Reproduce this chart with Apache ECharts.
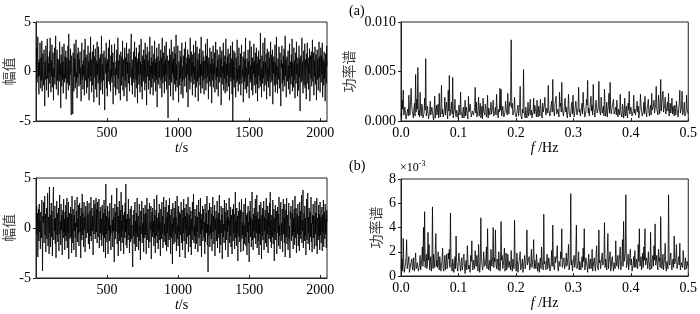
<!DOCTYPE html>
<html>
<head>
<meta charset="utf-8">
<script src="https://cdn.jsdelivr.net/npm/echarts@6/dist/echarts.min.js"></script>
<style>
  html, body { margin: 0; padding: 0; background: #fff; }
  #main { width: 700px; height: 314px; }
</style>
</head>
<body>
<div id="main"></div>
<script>
// 时域信号 (上) — 幅值, 以 t = 0..2048 s 均匀采样
var signalA = [
  0.3, 2.4, -1.1, 1.7, 3.5, -0.6, 0.9, -2.3, 1.2, -0.4, 2.9, 0.1, -1.7, 1.4, -0.9, 3.1, -2.0, 0.6, 1.8, -0.3,
  -1.4, 2.2, 0.5, -3.5, 1.0, -0.8, 2.6, 1.3, -1.9, 0.2, 3.3, -0.7, 1.5, -2.6, 0.8, -0.1, 2.0, -1.2, 3.4, 0.4,
  -2.1, 1.1, -0.5, 2.7, -1.6, 0.7, 1.9, -2.9, 0.3, -0.6, 2.4, -1.3, 1.6, 3.6, -0.2, -1.8, 0.9, 2.2, -0.9, 1.3,
  -2.4, 0.5, 1.2, -1.0, 3.0, -0.4, 0.8, -3.7, 1.7, 0.1, -1.5, 2.5, -0.8, 1.0, -2.2, 0.6, 2.8, -1.1, 0.2, 1.5,
  -0.7, 2.1, -2.8, 0.9, 1.4, -1.2, 0.4, 2.6, -1.9, 3.8, 0.2, -1.4, 1.1, -0.3, 2.3, -2.5, -4.4, 1.6, 0.5, -1.0,
  -4.3, 1.9, 0.7, -2.0, 2.8, -0.5, 1.3, -1.7, 0.6, 3.2, -1.1, 0.0, -2.7, 1.8, -0.6, 2.4, 0.9, -1.5, 1.2, -0.2,
  2.0, -1.3, 0.4, -3.0, 1.6, 2.9, -0.8, 0.7, -1.8, 1.1, -0.4, 2.2, -2.4, 0.8, 3.3, -0.9, 1.4, -0.1, -2.2, 1.7,
  0.5, -1.6, 2.6, -0.7, 1.0, -2.9, 0.3, 1.9, -1.0, 3.5, -0.5, 1.2, -2.1, 0.6, 2.0, -1.4, 0.1, 2.7, -3.1, 0.9,
  1.5, -0.6, 2.3, -1.8, 0.4, 1.1, -2.6, 3.0, -0.3, 0.8, -1.2, 2.5, 0.2, -3.4, 1.3, -0.8, 1.7, -1.9, 0.6, 3.6,
  -1.1, 0.7, -2.3, 1.8, 0.3, -0.9, 2.1, -1.5, -3.9, 1.4, 0.5, -0.2, 2.9, -1.7, 0.9, -2.5, 1.2, 0.0, 2.4, -1.0,
  0.8, 3.2, -1.3, 0.2, -2.0, 1.6, -0.6, 2.7, -1.1, 0.5, 1.9, -3.3, 0.9, -0.4, 1.3, 2.8, -1.6, 0.3, -2.4, 1.0,
  -0.3, 2.2, -1.8, 0.6, 3.4, -0.7, 1.1, -2.2, 0.4, 1.7, -1.0, -2.9, 2.0, 0.8, -1.4, 1.5, -0.5, 3.1, -1.9, 0.1,
  1.2, -2.5, 0.7, 2.4, -0.9, 1.4, -1.6, 0.3, 2.9, -3.0, 1.0, -0.2, 1.8, -1.2, 0.5, 2.3, -2.0, 0.9, -0.6, 1.6,
  2.6, 3.8, -1.4, 0.4, -2.3, 1.2, -0.7, 2.0, -1.1, 0.6, 3.0, -2.6, 0.2, 1.5, -0.8, 2.4, -1.7, 0.9, -3.2, 1.3,
  -0.4, 1.9, -1.3, 2.7, 0.5, -2.1, 1.0, -0.3, 3.3, -1.5, 0.7, -2.8, 1.6, 0.1, -1.0, 2.2, -0.6, 1.2, -1.9, 2.9,
  0.3, -1.2, 1.7, -3.4, 0.8, 2.5, -0.5, 1.1, -1.8, 0.4, 2.0, -0.9, 3.5, -2.3, 0.6, -0.1, 1.4, -1.6, 2.6, -0.7,
  1.0, -2.4, 0.5, 1.8, -1.1, 3.1, -0.4, 0.9, -2.0, 1.3, -0.8, 2.4, -3.6, 0.7, 1.5, -1.3, 0.2, 2.8, -0.6, 1.1,
  -1.7, 0.6, 2.2, -0.9, 1.4, -2.6, 3.4, 0.0, -1.2, 1.9, -0.5, 0.8, -2.2, 2.6, -1.0, 1.2, -0.3, 3.0, -1.8, 0.4,
  1.6, -0.7, -4.7, 1.1, 0.3, -1.4, 2.3, -0.8, 1.7, -2.5, 0.6, 3.2, -1.1, 0.9, -0.2, 2.0, -2.9, 1.3, -0.6, 2.5,
  -1.3, 0.4, 1.8, -2.0, 3.7, -0.9, 0.7, -1.6, 1.2, 2.6, -0.4, -3.1, 1.0, 0.2, -1.4, 2.1, -0.7, 1.5, -2.3, 0.8,
  2.9, -1.0, 0.5, -2.7, 1.6, 0.3, -0.8, 2.3, -1.5, 1.1, 3.0, -0.6, 0.8, -2.1, 1.4, -0.3, 2.2, -3.6, 0.6, 1.7,
  -0.9, 1.3, -1.8, 3.4, 0.4, -1.1, 2.0, -0.5, 0.9, -2.4, 1.7, -0.2, 2.7, -1.3, 0.5, -0.8, 1.9, -2.6, 3.1, 0.2,
  -1.6, 0.8, 2.5, -1.0, 1.2, -3.0, 0.3, 1.8, -0.6, 2.3, -1.4, 0.7, -2.2, 3.5, -0.4, 1.0, -1.7, 0.4, 2.1, -0.9,
  1.5, -2.3, 0.6, 1.1, -0.7, 2.8, -1.9, 0.2, 1.6, -1.2, 3.3, -0.5, 0.9, -2.8, 1.4, 0.1, -1.0, 2.4, -1.5, 0.7,
  -0.2, 2.0, -3.2, 1.3, 0.5, -0.9, 2.6, -1.6, 0.8, -0.3, 1.9, -2.1, 1.1, 3.0, -0.8, 0.4, -1.8, 2.2, -0.5, 1.2,
  -2.5, 0.9, 1.7, -1.1, 0.3, 2.5, -0.6, 1.4, -3.4, 0.7, 2.1, -1.3, 0.5, -0.1, 2.9, -1.9, 1.0, -0.7, 1.6, -2.2,
  0.6, 3.3, -1.2, 0.8, -2.0, 1.5, -0.4, 2.3, -1.5, 0.2, 1.8, -2.9, 0.9, -0.6, 2.6, -1.0, 0.4, 1.3, -2.3, 3.0,
  -5.0, 1.1, -0.8, 2.1, -1.6, 0.5, 1.9, -0.3, -2.6, 1.4, 0.7, -1.1, 3.2, -0.9, 0.3, -2.0, 1.6, 2.4, -1.3, 0.6,
  -0.7, 1.8, -2.4, 0.9, 2.7, -1.2, 0.2, -0.5, 1.5, -3.1, 0.8, 2.0, -1.0, 1.2, -1.8, 3.4, -0.6, 0.4, -2.2, 1.3,
  0.5, -1.5, 2.2, -0.3, 1.0, -2.7, 1.7, 3.1, -1.1, 0.6, -0.8, 2.5, -1.9, 0.3, 1.4, -2.4, 0.9, -0.2, 2.8, -1.4,
  1.1, -0.6, 1.9, -2.2, 0.4, 2.4, -1.3, 0.8, -3.0, 1.5, -0.4, 2.1, -1.7, 0.6, 1.2, -0.9, 3.9, -1.5, 0.3, -2.6,
  1.6, 0.2, -1.2, 2.9, -0.7, 1.0, -2.0, 0.5, 3.4, -1.4, 0.9, -0.3, 1.8, -2.8, 0.7, 2.3, -1.0, 0.4, -1.6, 2.0,
  -0.5, 1.4, -2.5, 0.8, 3.0, -1.1, 0.3, 1.7, -0.9, 2.2, -3.3, 1.0, -0.2, 1.5, -1.4, 0.6, 2.7, -2.1, 0.9, -0.4,
  3.5, -1.3, 0.5, -2.2, 1.3, 0.7, -0.8, 2.5, -1.7, 0.2, 1.9, -0.6, -3.5, 1.1, 0.4, 2.6, -1.2, 0.8, -2.0, 1.6,
  -0.9, 2.3, 0.1, -1.5, 3.6, -0.4, 1.2, -2.6, 0.7, 1.5, -1.0, 0.3, 2.1, -1.8, 0.6, -0.7, 2.8, -2.3, 1.0, 0.2,
  -1.3, 1.7, -0.5, 3.3, -2.0, 0.9, 0.2, -1.6, 2.4, -0.8, 1.1, -2.7, 0.5, 1.9, -1.2, 3.0, -0.3, 0.8, -2.5, 1.4,
  0.4, -1.9, 2.6, -0.6, 1.3, -4.0, 0.9, 1.6, -1.1, 0.3, 3.4, -0.9, 1.0, -2.2, 0.6, 2.1, -1.4, 0.2, 2.8, -1.7,
  1.2, -0.4, -2.8, 1.8, 0.5, 2.9, -1.2, 0.7, -1.8, 1.4, -0.2, 2.3, -3.0, 0.8, 1.6, -0.7, 2.0, -1.5, 0.4, 3.2,
  -1.0, 0.6, 1.9, -2.4, 1.1, -0.5, 2.5, -1.3, 0.3, 1.7, -2.9, 0.9, 2.2, -0.8, 1.3, -1.9, 0.5, 3.0, -0.6, 1.5,
  -2.1, 0.8, 2.4, -1.1, 1.6, -0.3, 2.9, -2.6, 0.4, 1.2, -1.4, 2.0, -0.7, 0.9, -3.0, 1.8, 0.2, -1.2, 2.6, 0.5
];

// 时域信号 (下)
var signalB = [
  1.0, 2.2, -0.6, 1.5, -2.9, 0.8, 1.9, -1.3, 2.4, -0.4, 0.7, -2.1, 1.6, 0.3, -1.0, 2.8, -0.8, -4.3, 1.2, 0.5,
  2.6, -1.5, 0.9, 3.2, -0.7, 1.4, -2.4, 0.6, 2.0, -1.1, 0.2, 3.5, -1.8, 1.1, 0.4, -2.6, 4.1, -0.5, 1.3, -1.9,
  0.8, 2.5, -0.9, 1.7, -2.8, 0.4, 3.0, 4.1, -1.2, 0.9, -0.3, 2.2, -1.6, 1.0, -3.0, 0.6, 2.7, -0.7, 1.5, -1.4,
  0.3, 2.0, -2.3, 1.2, 3.3, -0.6, 0.7, -1.7, 2.4, -0.2, 1.3, -2.7, 0.5, 1.8, -1.0, 2.9, -0.4, 0.9, -2.2, 1.6,
  -0.8, 2.3, -1.3, 0.6, 3.0, -2.0, 1.1, -0.5, 2.6, -3.1, 0.8, 1.5, -1.1, 0.2, 2.1, -0.9, 1.4, -2.5, 3.2, 0.4,
  -1.5, 1.9, 0.7, -2.2, 1.3, -0.3, 2.8, -1.0, 0.5, -2.9, 1.7, 0.1, 3.1, -1.4, 0.9, -0.6, 2.3, -1.8, 1.0, 2.5,
  -0.4, 1.2, -3.0, 2.0, 0.6, -1.2, 3.4, -0.7, 1.5, 0.3, -1.9, 2.6, -0.2, 1.1, -2.4, 0.8, 2.2, -1.0, 0.4, 1.8,
  2.7, -0.5, 1.4, -1.6, 0.9, 2.5, -2.1, 0.3, 1.7, -0.8, 3.1, -1.3, 0.7, 2.0, -0.3, 1.2, -2.7, 0.5, 2.8, -0.6,
  1.6, 2.4, -1.1, 0.8, 3.0, -0.4, 1.9, -1.5, 2.6, 0.2, -0.9, 1.3, 2.9, -2.0, 0.6, 1.7, -0.5, 2.1, -1.2, 0.9,
  -1.8, 2.3, 0.4, -0.7, 1.5, -2.4, 2.8, -1.0, 0.7, 1.9, -3.0, 4.4, -0.6, 1.2, -1.4, 0.5, 2.2, -2.6, 1.0, -0.2,
  1.7, -1.3, 2.5, -0.8, 0.3, -2.2, 1.4, 3.3, -0.5, 0.8, -1.9, 2.0, -0.3, 1.1, -3.4, 0.6, 2.4, -1.1, 1.6, -0.4,
  0.9, 4.0, -1.6, 0.5, 2.1, -2.8, 1.2, -0.6, 2.7, -1.3, 0.4, 1.8, -2.3, 3.6, -0.9, 0.7, -1.5, 2.3, -0.2, 1.3,
  -2.6, 0.8, 1.6, -1.0, 2.5, -0.4, 4.4, -1.7, 0.9, -2.0, 1.4, 0.2, -1.2, 2.9, -0.7, 1.0, -2.5, 0.6, 1.9, -1.4,
  0.5, 2.2, -1.1, 0.3, -2.9, -3.9, 1.3, -0.8, 1.8, -1.6, 0.4, 2.6, -2.3, 0.7, -0.5, 1.5, -1.9, 3.0, -0.9, 0.6,
  1.2, -2.2, 0.8, 2.4, -1.3, 0.2, -3.2, 1.7, -0.6, 1.1, 2.7, -1.5, 0.5, -0.9, 2.0, -2.4, 1.4, 0.3, -1.0, 2.3,
  -0.7, 1.5, -2.6, 0.9, 3.0, -1.2, 0.4, 1.9, -0.5, -2.0, 1.2, 2.5, -1.4, 0.6, -0.2, 2.2, -3.1, 0.8, 1.6, -0.9,
  2.0, -0.4, 0.7, -1.8, 2.9, -1.0, 1.3, -2.5, 0.5, 1.8, -0.8, 3.3, -1.5, 0.2, 1.0, -2.1, 1.5, -0.3, 2.4, -1.2,
  0.6, -2.8, 1.9, 0.3, -1.1, 2.6, -0.6, 1.2, -2.0, 0.8, 3.1, -1.4, 0.4, -0.7, 2.1, -1.7, 0.9, 2.8, -2.3, 1.1,
  -0.5, 1.6, -1.9, 2.3, 0.2, -1.2, 3.0, -0.8, 1.3, -2.6, 0.7, 1.9, -1.0, 0.4, -3.6, 2.5, -0.3, 1.0, -1.6, 2.0,
  0.8, -1.4, 2.7, -0.6, 1.1, -2.3, 0.5, 3.2, -1.1, 0.3, -1.8, 2.2, -0.4, 1.6, -2.9, 0.9, 1.4, -0.7, 2.6, -1.5,
  0.2, 1.8, -2.2, 1.0, -0.5, 2.9, -1.3, 0.6, 2.0, -3.0, 1.2, -0.2, 2.4, -1.6, 0.8, 1.5, -0.9, 3.1, -2.4, 0.4,
  1.3, -0.7, 2.1, -1.9, 0.5, 1.7, -2.7, 0.9, -0.3, 2.6, -1.2, 1.0, 3.4, -1.5, 0.2, -0.8, 1.9, -2.1, 1.2, 0.6,
  -1.6, 2.3, -0.4, 1.1, -2.4, 0.7, 2.8, -1.0, 0.3, 1.6, -1.8, 3.0, -0.6, 0.9, -2.9, 1.4, -0.2, 2.2, -1.3, 0.5,
  1.9, -0.9, 0.6, -2.6, 2.4, -1.4, 0.8, 1.5, -0.5, 3.2, -1.7, 0.4, -4.4, 1.8, -0.8, 1.1, 2.5, -1.9, 0.3, -0.6,
  2.1, -1.1, 1.4, -2.3, 0.7, 3.1, -0.4, 1.2, -1.6, 0.5, 2.3, -2.8, 0.9, -0.2, 1.7, -1.3, 0.6, 2.7, -2.0, 1.0,
  -0.6, 1.5, -1.0, 3.3, -2.5, 0.8, 0.3, -1.7, 2.2, -0.5, 1.3, -3.1, 1.0, 2.0, -0.9, 0.4, -1.5, 2.8, -0.3, 1.6,
  -2.2, 0.6, 2.5, -1.2, 0.9, -0.4, 1.8, -2.9, 1.1, 0.2, 3.0, -1.5, 0.7, -0.8, 2.1, -1.9, 1.3, 0.5, -2.6, 1.9,
  0.9, -1.3, 2.4, -0.5, 1.4, -2.1, 0.3, 3.6, -1.0, 0.7, -1.8, 2.0, -0.6, 1.2, -3.3, 0.8, 1.7, -0.9, 2.6, -1.4,
  0.4, 1.8, -2.4, 0.9, 2.9, -1.1, 0.5, -0.7, 1.6, -2.3, 1.0, 2.4, -1.6, 0.3, -0.9, 3.0, -1.8, 0.7, 1.3, -2.7,
  1.5, -0.4, 2.2, -1.5, 0.6, -3.4, 1.7, 0.2, 2.7, -0.9, 1.1, -1.9, 0.5, 3.6, -1.2, 0.8, -2.2, 1.4, -0.3, 2.0,
  -1.0, 0.7, 2.9, -1.6, 1.2, -0.5, 3.3, -2.0, 0.4, 1.6, -1.3, 0.9, -2.7, 2.3, -0.6, 1.0, -1.7, 2.6, 0.3, -3.1,
  1.3, -0.8, 2.0, -1.2, 0.6, 2.7, -2.2, 1.1, -0.3, 1.8, -1.5, 0.4, 3.0, -1.9, 0.9, -0.6, 2.2, -2.5, 1.5, 0.2,
  -1.1, 2.5, -0.7, 3.6, -1.4, 0.8, -2.0, 1.3, 0.5, -0.9, 2.8, -1.6, 0.7, 1.9, -3.3, 1.0, -0.4, 2.3, -1.2, 0.6,
  1.7, -2.6, 0.9, 2.1, -0.5, 1.4, -1.8, 3.1, -0.8, 0.3, -2.1, 1.6, 2.6, -1.3, 0.5, -0.7, 1.9, -2.4, 1.2, 2.9,
  -0.6, 1.0, -1.5, 2.4, -2.9, 0.7, 1.8, -0.9, 3.0, -1.6, 0.4, 1.3, -2.2, 0.8, 2.5, -1.1, 0.2, -3.0, 1.7, 0.9,
  2.2, -1.3, 0.6, 1.5, -0.8, 2.8, -2.1, 1.0, -0.4, 1.9, -1.7, 3.2, 0.3, -1.0, 2.0, -2.5, 0.9, 1.4, -0.6, 2.4,
  -1.8, 0.5, 1.2, -2.3, 2.6, -0.7, 1.7, -1.1, 0.4, 3.3, -1.5, 0.8, -0.3, 3.8, -2.0, 0.6, 1.5, -1.3, 2.2, -0.8,
  1.0, -2.7, 0.7, 2.9, -1.2, 0.3, 3.5, -1.6, 1.1, -0.5, 2.0, -2.2, 0.9, 1.6, -0.9, 3.1, -1.4, 0.5, -2.4, 1.3,
  0.4, 2.4, -1.0, 1.2, -2.1, 0.8, 2.7, -0.6, 1.5, -1.8, 0.2, 3.0, -2.6, 1.0, 0.6, -1.2, 2.3, -0.8, 1.4, -2.2,
  2.6, -0.7, 1.1, -1.5, 0.5, 2.1, -2.3, 1.3, -0.4, 2.8, -1.9, 0.7, 1.6, -1.1, 2.4, -0.6, 0.9, -2.0, 1.8, 0.6
];

// 功率谱 (a), 单位 1e-3, f = 0 .. 0.5 Hz
var spectrumA = [
  0.8, 0.3, 2.1, 1.2, 3.1, 0.6, 0.4, 1.4, 1.5, 0.2, 0.2, 0.9, 1.2, 0.5, 2.6, 1.1, 0.6, 0.4, 3.3, 1.6, 1.0, 0.7, 0.3, 1.3, 1.8, 0.5, 4.7, 0.9, 2.2, 1.2, 5.4, 0.6,
  1.1, 0.4, 2.9, 1.0, 0.5, 1.7, 1.4, 0.3, 0.2, 0.8, 2.3, 1.1, 6.3, 0.5, 0.9, 1.5, 1.6, 0.2, 0.3, 1.0, 2.0, 0.6, 0.7, 1.4, 1.3, 0.4, 0.1, 0.9, 2.5, 0.3, 1.0, 1.6,
  0.6, 1.2, 1.7, 0.3, 2.8, 0.9, 0.4, 1.5, 3.6, 0.7, 1.2, 0.4, 0.3, 1.1, 2.4, 0.6, 1.5, 1.9, 0.8, 0.2, 3.1, 1.0, 4.6, 0.5, 0.5, 1.3, 1.9, 0.7, 4.4, 0.3, 0.9, 1.2,
  2.2, 0.8, 0.4, 1.1, 1.3, 0.5, 0.2, 1.6, 1.8, 0.6, 2.9, 1.0, 0.7, 0.3, 1.0, 1.4, 0.3, 0.8, 2.1, 0.5, 1.4, 1.2, 0.6, 0.2, 2.5, 0.9, 0.9, 1.7, 1.6, 0.4, 0.2, 1.0,
  1.2, 0.6, 0.5, 1.3, 3.4, 0.8, 1.9, 0.4, 0.7, 1.2, 2.4, 0.5, 1.1, 1.8, 0.3, 0.7, 1.5, 0.2, 2.3, 1.0, 0.8, 0.6, 1.7, 1.3, 0.4, 0.9, 2.6, 0.3, 1.3, 1.1, 0.6, 0.4,
  1.9, 0.7, 0.9, 1.4, 2.1, 0.5, 0.3, 1.0, 1.4, 0.6, 2.7, 1.2, 0.6, 0.3, 1.2, 0.9, 3.3, 1.1, 3.2, 0.5, 0.8, 1.5, 1.6, 0.4, 0.4, 0.9, 2.0, 1.3, 1.1, 0.6, 2.8, 1.0,
  0.7, 1.9, 1.5, 2.4, 8.2, 1.3, 1.8, 0.6, 0.5, 1.1, 2.4, 0.8, 1.0, 0.4, 0.2, 1.2, 1.6, 0.5, 0.9, 1.7, 3.5, 0.6, 0.4, 0.2, 1.2, 0.8, 5.2, 1.0, 0.6, 0.3, 1.4, 0.7,
  0.3, 0.9, 1.9, 0.5, 0.8, 1.4, 2.2, 0.6, 1.1, 0.3, 0.5, 1.0, 2.3, 0.7, 1.6, 1.2, 0.9, 0.4, 2.1, 0.8, 0.4, 1.5, 1.3, 0.5, 2.2, 1.1, 0.7, 0.3, 1.8, 0.9, 1.0, 1.6,
  2.4, 1.0, 0.6, 1.3, 1.5, 0.8, 3.6, 1.1, 1.2, 0.5, 0.4, 1.6, 2.0, 0.9, 4.2, 1.4, 0.9, 0.5, 1.7, 2.2, 2.5, 0.7, 0.5, 1.2, 1.3, 0.4, 2.9, 1.5, 1.8, 0.9, 3.9, 1.3,
  1.1, 0.5, 0.6, 1.8, 2.3, 0.9, 1.4, 0.6, 0.3, 1.2, 2.7, 1.0, 1.0, 0.4, 0.8, 1.5, 1.9, 0.7, 2.6, 1.1, 0.4, 0.8, 1.5, 2.0, 2.2, 0.6, 0.7, 1.3, 3.4, 0.9, 1.2, 0.5,
  0.5, 1.2, 1.8, 0.7, 2.9, 1.5, 1.1, 0.4, 0.4, 1.0, 2.2, 1.6, 4.1, 0.8, 1.3, 0.5, 0.7, 1.9, 2.5, 1.0, 1.6, 0.6, 3.7, 1.3, 0.9, 0.4, 1.4, 2.1, 2.0, 0.8, 0.6, 1.4,
  4.0, 1.1, 1.2, 0.6, 2.4, 1.5, 0.8, 1.0, 1.5, 0.5, 3.2, 1.3, 0.5, 0.9, 1.9, 0.4, 1.1, 1.6, 2.8, 0.8, 3.9, 1.2, 0.7, 0.5, 1.6, 1.9, 2.2, 0.7, 0.9, 1.1, 1.4, 0.6,
  2.1, 0.9, 0.4, 1.2, 1.3, 0.6, 2.7, 1.0, 0.8, 0.4, 1.7, 1.3, 0.3, 0.8, 2.3, 0.5, 1.0, 1.5, 0.6, 0.3, 1.8, 1.1, 3.0, 0.7, 0.9, 1.4, 1.4, 0.5, 0.5, 1.0, 2.6, 0.8,
  1.2, 0.6, 0.7, 1.4, 2.0, 0.9, 1.5, 0.3, 0.4, 1.1, 2.7, 1.6, 1.1, 0.5, 0.6, 1.0, 1.9, 0.7, 2.5, 1.2, 0.8, 0.4, 1.3, 1.7, 2.2, 0.9, 0.5, 1.3, 1.6, 0.6, 2.8, 1.1,
  1.0, 1.5, 2.1, 0.8, 0.9, 1.7, 3.5, 1.2, 1.4, 0.6, 2.6, 1.9, 0.7, 1.3, 4.2, 1.0, 1.8, 2.3, 3.0, 0.9, 1.1, 1.6, 2.4, 0.7, 0.6, 1.4, 1.9, 1.0, 2.8, 0.5, 1.2, 1.8,
  0.8, 1.3, 2.3, 0.7, 1.5, 1.0, 0.5, 1.6, 1.7, 0.6, 2.0, 1.2, 0.9, 0.4, 1.3, 1.8, 3.1, 0.8, 1.1, 1.4, 3.0, 0.6, 0.6, 1.1, 1.9, 0.5, 0.4, 0.9, 2.6, 1.2, 1.0, 0.7
];

// 功率谱 (b), 单位 1e-3
var spectrumB = [
  0.6, 1.1, 1.4, 0.4, 3.1, 1.0, 0.3, 0.7, 1.0, 1.5, 3.0, 0.6, 0.5, 1.2, 1.6, 0.3, 0.2, 0.9, 1.1, 1.4, 0.7, 0.5, 1.5, 0.8, 0.4, 1.3, 1.9, 0.6, 0.8, 1.1, 1.2, 0.4,
  0.3, 1.0, 1.7, 0.5, 0.9, 1.4, 2.4, 0.8, 4.0, 1.2, 5.3, 0.7, 1.2, 1.8, 0.6, 0.9, 3.6, 1.3, 2.6, 0.5, 1.0, 1.6, 0.4, 1.1, 5.7, 0.6, 1.8, 1.2, 0.7, 2.1, 3.5, 0.8,
  1.3, 0.7, 2.0, 1.1, 0.5, 1.6, 1.5, 0.4, 0.9, 1.3, 2.3, 0.6, 0.4, 1.0, 1.7, 0.5, 1.1, 1.8, 0.6, 0.9, 1.9, 1.4, 2.2, 0.7, 5.2, 1.2, 0.8, 0.4, 1.4, 1.0, 0.3, 0.8,
  1.6, 0.6, 3.3, 1.2, 0.7, 0.4, 1.2, 1.9, 2.0, 0.8, 0.4, 1.1, 1.5, 0.5, 0.9, 1.6, 1.8, 0.7, 0.2, 1.0, 1.3, 0.5, 2.5, 1.4, 0.6, 0.9, 1.0, 0.3, 1.7, 1.2, 2.9, 0.7,
  0.5, 1.3, 1.4, 0.6, 2.1, 1.0, 0.8, 1.7, 1.1, 0.4, 2.6, 1.2, 0.3, 0.9, 4.8, 1.5, 1.6, 0.5, 0.7, 2.0, 1.9, 0.8, 1.0, 1.4, 2.4, 0.6, 3.9, 1.1, 0.5, 0.9, 1.3, 0.4,
  2.2, 1.0, 0.8, 1.6, 4.0, 0.7, 1.5, 1.2, 3.8, 0.9, 0.6, 1.4, 1.2, 0.5, 2.0, 1.1, 0.4, 0.8, 4.5, 1.3, 1.7, 0.6, 0.9, 1.5, 2.3, 0.4, 1.1, 1.9, 0.5, 0.7, 1.8, 1.2,
  0.7, 1.2, 1.3, 0.5, 2.1, 0.9, 0.4, 1.4, 1.5, 0.6, 4.6, 1.1, 0.9, 0.4, 1.9, 1.3, 0.3, 0.8, 1.2, 1.6, 2.0, 0.5, 0.6, 1.0, 1.4, 0.3, 0.8, 1.2, 1.7, 0.6, 0.5, 1.5,
  3.8, 0.9, 1.0, 1.4, 1.6, 0.5, 0.4, 1.1, 2.2, 0.7, 0.8, 1.5, 3.0, 0.6, 1.3, 1.0, 0.6, 1.8, 1.9, 0.4, 1.1, 0.9, 0.3, 1.2, 1.5, 0.6, 2.4, 1.3, 0.9, 0.5, 5.1, 1.0,
  1.2, 0.7, 0.5, 1.3, 1.8, 0.6, 0.9, 1.5, 1.4, 0.4, 0.3, 1.0, 2.1, 0.8, 4.2, 1.2, 0.7, 0.5, 1.6, 1.1, 1.0, 1.7, 2.5, 0.6, 0.4, 1.2, 1.3, 0.8, 2.0, 1.4, 3.9, 0.7,
  0.8, 1.3, 1.5, 0.6, 0.5, 1.1, 1.9, 0.8, 1.1, 1.6, 2.6, 0.5, 0.6, 1.2, 6.8, 0.9, 1.3, 0.4, 0.4, 1.4, 1.7, 0.7, 1.0, 1.9, 4.2, 0.6, 0.7, 1.1, 2.0, 0.5, 1.2, 1.3,
  0.5, 1.0, 1.6, 0.7, 2.3, 1.2, 3.9, 0.5, 0.9, 1.5, 1.4, 0.8, 0.3, 1.1, 1.8, 0.6, 1.1, 1.4, 0.6, 0.9, 2.2, 0.4, 0.8, 1.3, 1.5, 0.7, 0.4, 1.6, 2.5, 0.9, 1.0, 0.5,
  3.8, 1.1, 1.3, 0.6, 0.6, 1.5, 1.9, 0.9, 0.9, 1.3, 4.4, 0.7, 1.4, 1.0, 0.5, 1.8, 3.5, 0.6, 1.1, 1.2, 2.0, 0.4, 0.7, 1.4, 1.6, 0.8, 0.4, 1.1, 1.2, 0.6, 2.9, 1.3,
  0.8, 1.4, 1.7, 0.6, 1.1, 1.0, 2.4, 0.5, 0.5, 1.3, 3.0, 0.8, 4.5, 1.2, 1.2, 1.9, 6.7, 0.7, 0.9, 1.1, 1.8, 0.5, 0.6, 1.6, 2.2, 0.9, 1.4, 0.4, 0.3, 1.0, 1.6, 0.7,
  2.1, 0.9, 0.7, 1.4, 1.3, 0.6, 2.6, 1.2, 3.9, 0.8, 1.0, 1.6, 0.5, 1.1, 1.9, 0.7, 2.4, 1.3, 3.9, 0.9, 0.8, 1.5, 1.5, 0.6, 2.0, 1.2, 1.1, 0.5, 3.6, 1.0, 0.6, 1.4,
  1.7, 0.8, 2.5, 1.3, 4.3, 0.9, 1.2, 1.7, 0.8, 0.5, 2.2, 1.2, 1.5, 0.7, 4.9, 1.4, 0.6, 1.0, 1.8, 0.5, 1.0, 1.6, 2.7, 0.8, 0.4, 1.2, 1.3, 0.6, 6.7, 1.1, 0.9, 1.5,
  1.9, 0.8, 0.5, 1.2, 1.4, 0.7, 3.3, 1.0, 1.1, 1.5, 2.6, 0.6, 0.7, 1.3, 1.6, 0.9, 2.7, 0.5, 0.4, 1.1, 1.2, 0.7, 2.1, 1.4, 0.8, 0.5, 1.5, 1.0, 0.6, 1.2, 1.3, 0.8
];

var tMax = 2048;
var fMax = 0.5;

function timePairs(arr) {
  return arr.map(function (v, i) { return [(i + 1) * tMax / arr.length, v]; });
}
function freqPairs(arr) {
  return arr.map(function (v, i) { return [i * fMax / (arr.length - 1), v]; });
}

var FONT = '"Liberation Serif", "Times New Roman", serif';
var CJK = '"Noto Sans CJK SC", sans-serif';

function xAxisCfg(gridIndex, type) {
  var isT = type === 't';
  return {
    type: 'value', gridIndex: gridIndex,
    min: 0, max: isT ? tMax : fMax, interval: isT ? 500 : 0.1,
    name: isT ? '{i|t}{n|/s}' : '{i|f}{n| /Hz}',
    nameLocation: 'middle', nameGap: 15,
    nameTextStyle: {
      rich: {
        i: { fontFamily: FONT, fontSize: 14, fontStyle: 'italic', color: '#000' },
        n: { fontFamily: FONT, fontSize: 14, color: '#000' }
      }
    },
    axisLine: { show: true, onZero: false, lineStyle: { color: '#222', width: 1 } },
    axisTick: { show: true, inside: true, length: 3, lineStyle: { color: '#222' } },
    axisLabel: {
      fontFamily: FONT, fontSize: 14, color: '#000', margin: 5,
      showMinLabel: !isT, showMaxLabel: !isT,
      formatter: isT ? function (v) { return String(v); } : function (v) { return v.toFixed(1); }
    },
    splitLine: { show: false }
  };
}

function yAxisCfg(gridIndex, name, min, max, interval, fmt, gap) {
  return {
    type: 'value', gridIndex: gridIndex,
    min: min, max: max, interval: interval,
    name: name, nameLocation: 'middle', nameRotate: 90, nameGap: gap,
    nameTextStyle: { fontFamily: CJK, fontSize: 14, color: '#444' },
    axisLine: { show: true, onZero: false, lineStyle: { color: '#222', width: 1 } },
    axisTick: { show: true, inside: false, length: 3, lineStyle: { color: '#222' } },
    axisLabel: { fontFamily: FONT, fontSize: 14, color: '#000', margin: 5, formatter: fmt },
    splitLine: { show: false }
  };
}

function lineSeries(idx, data) {
  return {
    type: 'line', xAxisIndex: idx, yAxisIndex: idx,
    data: data, showSymbol: false, symbol: 'none', sampling: null,
    lineStyle: { color: '#000', width: 0.8 },
    animation: false, silent: true
  };
}

var gridStyle = { show: true, borderColor: '#222', borderWidth: 1, backgroundColor: 'transparent' };

var option = {
  animation: false,
  backgroundColor: '#fff',
  grid: [
    Object.assign({ left: 36, top: 22, width: 291, height: 99 }, gridStyle),
    Object.assign({ left: 401, top: 22, width: 291, height: 99 }, gridStyle),
    Object.assign({ left: 36, top: 178, width: 291, height: 100 }, gridStyle),
    Object.assign({ left: 401, top: 179, width: 291, height: 97 }, gridStyle)
  ],
  xAxis: [xAxisCfg(0, 't'), xAxisCfg(1, 'f'), xAxisCfg(2, 't'), xAxisCfg(3, 'f')],
  yAxis: [
    yAxisCfg(0, '幅值', -5, 5, 5, null, 16),
    yAxisCfg(1, '功率谱', 0, 10, 5, function (v) { return (v / 1000).toFixed(3); }, 45),
    yAxisCfg(2, '幅值', -5, 5, 5, null, 16),
    yAxisCfg(3, '功率谱', 0, 8, 2, null, 18)
  ],
  series: [
    lineSeries(0, timePairs(signalA)),
    lineSeries(1, freqPairs(spectrumA)),
    lineSeries(2, timePairs(signalB)),
    lineSeries(3, freqPairs(spectrumB))
  ],
  graphic: [
    { type: 'text', left: 349, top: 4, style: { text: '(a)', font: '14px ' + FONT, fill: '#000' } },
    { type: 'text', left: 349, top: 159, style: { text: '(b)', font: '14px ' + FONT, fill: '#000' } },
    {
      type: 'text', left: 400, top: 160,
      style: {
        text: '{a|×10}{b|-3}',
        rich: {
          a: { fontFamily: FONT, fontSize: 12, color: '#000', verticalAlign: 'bottom' },
          b: { fontFamily: FONT, fontSize: 8, color: '#000', verticalAlign: 'top', padding: [0, 0, 6, 0] }
        }
      }
    }
  ]
};

var chart = echarts.init(document.getElementById('main'), null, { renderer: 'canvas' });
chart.setOption(option);
</script>
</body>
</html>
